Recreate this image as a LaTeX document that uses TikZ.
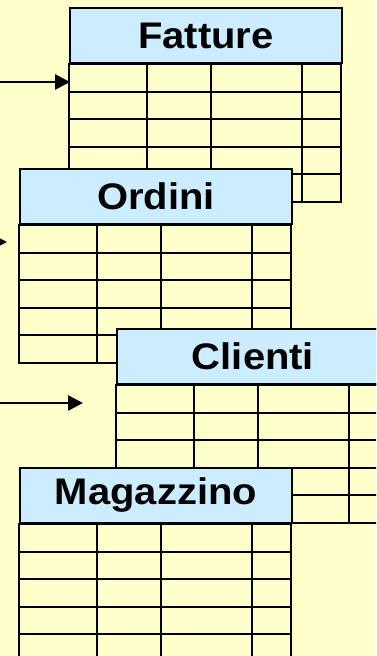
\documentclass[tikz,border=0pt]{standalone}
\usepackage{fontspec}
\setmainfont{Liberation Sans}
\newfontfamily\headfont[FakeStretch=1.08]{Liberation Sans}
\usetikzlibrary{arrows.meta}
\definecolor{paper}{HTML}{FFFFCC}
\definecolor{headblue}{HTML}{CCECFF}

% one relation: a titled header with a 4-column, 5-row grid below it
\newcommand\relTable[3]{%
  \node[tablehead] (#1) at (#2) {#3};
  \begin{scope}[shift={(#1.south west)}]
    \draw[gridline, fill=paper] (0,0) rectangle (272,137.5);
    \foreach \r in {27.5,55,82.5,110} \draw[gridline] (0,\r) -- (272,\r);
    \foreach \c in {78,142,233} \draw[gridline] (\c,0) -- (\c,137.5);
  \end{scope}
  \node[tablehead] at (#2) {#3};
}

\begin{document}
\begin{tikzpicture}[x=1pt,y=-1pt,
  tablehead/.style={draw=black, line width=2pt, fill=headblue,
    minimum width=272pt, minimum height=55pt, inner sep=0pt,
    anchor=north west, font=\headfont\fontsize{37}{40}\selectfont\bfseries},
  gridline/.style={draw=black, line width=2pt},
  feed/.style={line width=2.6pt, -{Triangle[length=15pt,width=15pt]}}]

  \useasboundingbox (0,0) rectangle (376,656);
  \fill[paper] (0,0) rectangle (376,656);
  \clip (0,0) rectangle (376,656);

  \relTable{fatture}{69,7}{Fatture}
  \relTable{ordini}{19,168}{Ordini}
  \relTable{clienti}{116,328}{Clienti}
  \relTable{magazzino}{19,467}{Magazzino}

  % incoming arrows on the left
  \coordinate (src1) at (-5,82);
  \coordinate (tip1) at (70,82);
  \coordinate (src2) at (-30,242);
  \coordinate (tip2) at (7,242);
  \coordinate (src3) at (-5,403);
  \coordinate (tip3) at (83,403);
  \draw[feed] (src1) -- (tip1);
  \draw[feed] (src2) -- (tip2);
  \draw[feed] (src3) -- (tip3);
\end{tikzpicture}
\end{document}
